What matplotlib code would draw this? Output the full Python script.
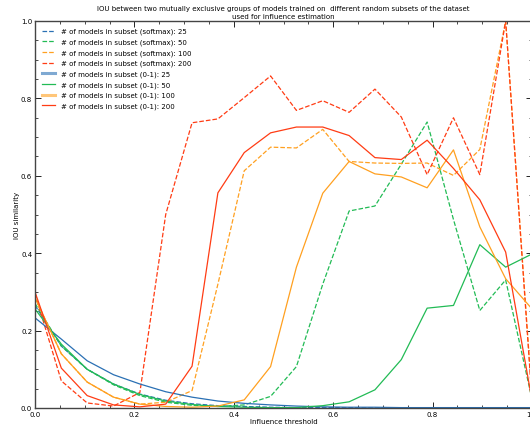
import matplotlib
matplotlib.use("Agg")
import matplotlib.pyplot as plt
from matplotlib.ticker import MultipleLocator

# influence thresholds (x axis)
thresholds = [0.0, 0.053, 0.105, 0.158, 0.211, 0.263, 0.316, 0.368, 0.421, 0.474,
              0.526, 0.579, 0.632, 0.684, 0.737, 0.789, 0.842, 0.895, 0.947, 1.0]

subset_sizes = [25, 50, 100, 200]

# IOU similarity, softmax variant
softmax_25 = [0.265, 0.16, 0.10, 0.062, 0.036, 0.02, 0.011, 0.006, 0.004, 0.002,
              0.001, 0.001, 0.001, 0.0, 0.0, 0.0, 0.0, 0.0, 0.0, 0.0]
softmax_50 = [0.27, 0.16, 0.10, 0.06, 0.032, 0.015, 0.007, 0.004, 0.008, 0.03,
              0.107, 0.32, 0.509, 0.522, 0.63, 0.739, 0.487, 0.252, 0.331, 0.023]
softmax_100 = [0.285, 0.14, 0.067, 0.028, 0.01, 0.015, 0.045, 0.32, 0.613, 0.674,
               0.672, 0.72, 0.637, 0.633, 0.632, 0.633, 0.601, 0.668, 1.0, 0.03]
softmax_200 = [0.295, 0.07, 0.013, 0.005, 0.04, 0.50, 0.737, 0.747, 0.802, 0.858,
               0.769, 0.794, 0.764, 0.824, 0.752, 0.603, 0.75, 0.603, 1.0, 0.02]

# IOU similarity, 0-1 variant
zero_one_25 = [0.233, 0.178, 0.122, 0.086, 0.062, 0.042, 0.028, 0.018, 0.012, 0.008,
               0.005, 0.003, 0.002, 0.002, 0.001, 0.001, 0.001, 0.001, 0.001, 0.001]
zero_one_50 = [0.256, 0.165, 0.10, 0.062, 0.035, 0.018, 0.009, 0.004, 0.002, 0.001,
               0.001, 0.006, 0.016, 0.047, 0.125, 0.258, 0.265, 0.422, 0.364, 0.398]
zero_one_100 = [0.285, 0.14, 0.067, 0.028, 0.01, 0.004, 0.002, 0.005, 0.021, 0.107,
                0.364, 0.555, 0.637, 0.605, 0.597, 0.569, 0.667, 0.468, 0.334, 0.256]
zero_one_200 = [0.30, 0.103, 0.032, 0.008, 0.003, 0.01, 0.108, 0.556, 0.66, 0.711,
                0.726, 0.726, 0.704, 0.647, 0.642, 0.692, 0.619, 0.538, 0.403, 0.02]

colors = ['#2a70b4', '#22bb55', '#ffa020', '#ff3c14']

plt.rcParams['font.size'] = 5

fig = plt.figure(figsize=(5.3, 4.27), dpi=100)
ax = fig.add_axes([35 / 530, 18 / 427, 497 / 530, 387 / 427])

softmax = [softmax_25, softmax_50, softmax_100, softmax_200]
zero_one = [zero_one_25, zero_one_50, zero_one_100, zero_one_200]

for n, ys, c in zip(subset_sizes, softmax, colors):
    ax.plot(thresholds, ys, '--', color=c, lw=0.9,
            label='# of models in subset (softmax): %d' % n)
for n, ys, c in zip(subset_sizes, zero_one, colors):
    ax.plot(thresholds, ys, '-', color=c, lw=0.9,
            label='# of models in subset (0-1): %d' % n)

ax.set_xlim(0, 1)
ax.set_ylim(0, 1)
ax.xaxis.set_major_locator(MultipleLocator(0.2))
ax.yaxis.set_major_locator(MultipleLocator(0.2))
ax.xaxis.set_minor_locator(MultipleLocator(0.05))
ax.yaxis.set_minor_locator(MultipleLocator(0.05))
ax.tick_params(which='both', direction='in', top=True, right=True, pad=2)
ax.tick_params(which='major', length=4, width=0.6)
ax.tick_params(which='minor', length=2, width=0.5)
for s in ax.spines.values():
    s.set_color('#444444')
    s.set_linewidth(1.0)

ax.set_xlabel('Influence threshold', labelpad=1)
ax.set_ylabel('IOU similarity', labelpad=1)
ax.set_title('IOU between two mutually exclusive groups of models trained on  '
             'different random subsets of the dataset\nused for influence estimation',
             fontsize=5, pad=2, linespacing=1.35)

leg = ax.legend(loc='upper left', frameon=False, handlelength=1.9,
                handletextpad=0.9, labelspacing=0.6, borderaxespad=0.6)
# two of the legend handles look heavier in the reference
for i in (4, 6):
    leg.get_lines()[i].set_linewidth(2.2)
    leg.get_lines()[i].set_alpha(0.6)

fig.savefig('out.png', dpi=100)
